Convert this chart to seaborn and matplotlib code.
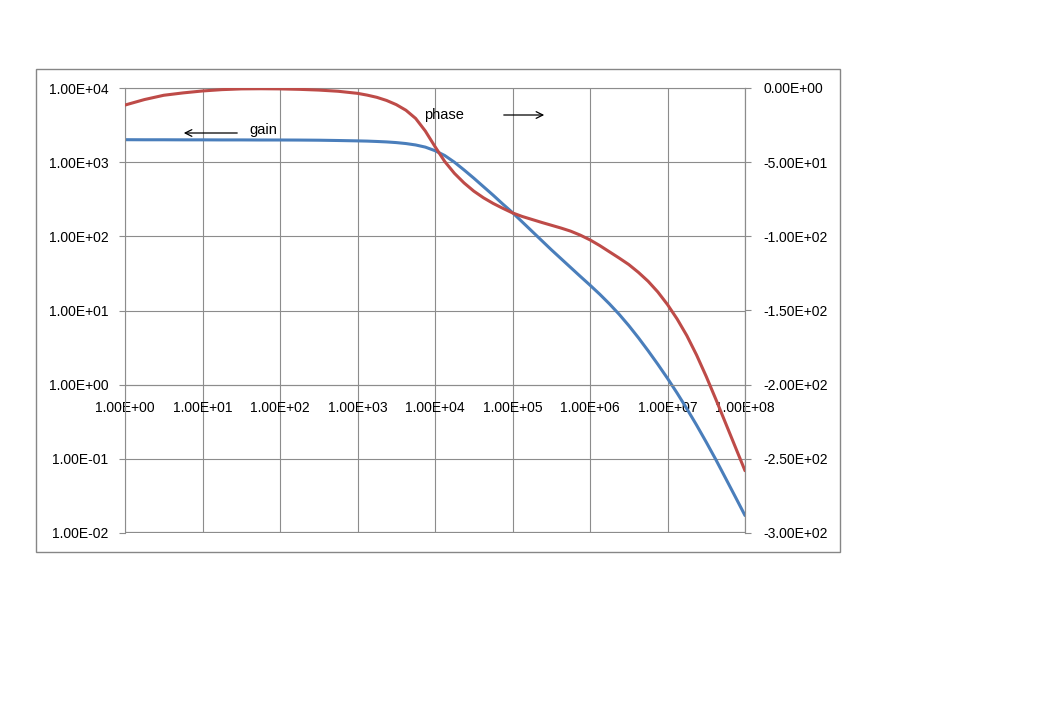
import numpy as np
import pandas as pd
import seaborn as sns
import matplotlib.pyplot as plt
from matplotlib.patches import Rectangle
from matplotlib.ticker import FixedLocator, FuncFormatter, NullLocator

# frequency points (log10 of frequency)
log_freq = [0.00, 0.25, 0.50, 0.75, 1.00, 1.25, 1.50, 1.75, 2.00, 2.25, 2.50, 2.75,
            3.000, 3.125, 3.250, 3.375, 3.500, 3.625, 3.750, 3.875,
            4.000, 4.125, 4.250, 4.375, 4.500, 4.625, 4.750, 4.875,
            5.000, 5.125, 5.250, 5.375, 5.500, 5.625, 5.750, 5.875,
            6.000, 6.125, 6.250, 6.375, 6.500, 6.625, 6.750, 6.875,
            7.000, 7.125, 7.250, 7.375, 7.500, 7.625, 7.750, 7.875, 8.000]

# gain (log10 of value, left axis)
log_gain = [3.303, 3.302, 3.302, 3.301, 3.301, 3.300, 3.300, 3.299, 3.299, 3.298, 3.296, 3.292,
            3.287, 3.284, 3.279, 3.273, 3.264, 3.251, 3.232, 3.203,
            3.155, 3.090, 3.000, 2.895, 2.785, 2.670, 2.555, 2.435,
            2.320, 2.195, 2.070, 1.945, 1.820, 1.700, 1.580, 1.460,
            1.342, 1.220, 1.090, 0.950, 0.797, 0.632, 0.457, 0.275,
            0.085, -0.115, -0.325, -0.545, -0.775, -1.013, -1.262, -1.512, -1.764]

# phase in degrees (right axis)
phase = [-11.5, -7.8, -4.9, -3.3, -2.0, -1.1, -0.6, -0.5, -0.6, -0.9, -1.4, -2.2,
         -3.6, -4.8, -6.3, -8.4, -11.2, -15.0, -20.5, -29.0,
         -39.5, -49.5, -57.5, -64.0, -69.5, -74.0, -77.8, -81.1,
         -84.2, -86.6, -88.6, -90.6, -92.5, -94.4, -96.5, -99.2,
         -102.4, -106.2, -110.4, -114.6, -119.0, -124.3, -130.3, -137.5,
         -146.0, -155.8, -167.0, -180.0, -194.5, -210.0, -226.0, -242.0, -258.0]

x_ticks = [1e0, 1e1, 1e2, 1e3, 1e4, 1e5, 1e6, 1e7, 1e8]
gain_ticks = [1e-2, 1e-1, 1e0, 1e1, 1e2, 1e3, 1e4]
phase_ticks = [-300, -250, -200, -150, -100, -50, 0]

df = pd.DataFrame({
    "freq": [10 ** v for v in log_freq],
    "gain": [10 ** v for v in log_gain],
    "phase": phase,
})

sns.set_theme(style="white")
plt.rcParams['font.family'] = ['Liberation Sans', 'DejaVu Sans']
plt.rcParams['text.color'] = 'black'

grid_col = "#8c8c8c"
blue = "#4a7ebb"
red = "#be4b48"

fig = plt.figure(figsize=(10.4, 7.2), dpi=100)
ax = fig.add_axes([125 / 1040, 187 / 720, 620 / 1040, 445 / 720])

# outer chart frame
fig.patches.append(Rectangle((36 / 1040, 168 / 720), 804 / 1040, 483 / 720,
                             transform=fig.transFigure, fill=False,
                             edgecolor="#868686", linewidth=1.0))

sns.lineplot(data=df, x="freq", y="gain", ax=ax, color=blue, linewidth=2.2)
ax.set_xscale("log")
ax.set_yscale("log")
ax.set_xlim(1e0, 1e8)
ax.set_ylim(1e-2, 1e4)

fmt = FuncFormatter(lambda v, p: "{:.2E}".format(v))
ax.xaxis.set_major_locator(FixedLocator(x_ticks))
ax.yaxis.set_major_locator(FixedLocator(gain_ticks))
ax.xaxis.set_minor_locator(NullLocator())
ax.yaxis.set_minor_locator(NullLocator())
ax.xaxis.set_major_formatter(fmt)
ax.yaxis.set_major_formatter(fmt)
ax.grid(True, color=grid_col, linewidth=0.8)
ax.set_xlabel("")
ax.set_ylabel("")

for s in ["left", "top", "right", "bottom"]:
    ax.spines[s].set_color(grid_col)
    ax.spines[s].set_linewidth(0.8)
ax.spines["bottom"].set_position(("data", 1))
ax.axhline(1e-2, color=grid_col, linewidth=1.6, clip_on=True)

ax.tick_params(axis="x", length=0, pad=12, labelsize=10, colors="black")
ax.tick_params(axis="y", left=True, length=4, width=0.8, color=grid_col,
               pad=8, labelsize=10, labelcolor="black")

ax2 = ax.twinx()
sns.lineplot(data=df, x="freq", y="phase", ax=ax2, color=red, linewidth=2.2)
ax2.set_ylim(-300, 0)
ax2.yaxis.set_major_locator(FixedLocator(phase_ticks))
ax2.yaxis.set_major_formatter(fmt)
ax2.set_ylabel("")
for s in ["left", "top", "right", "bottom"]:
    ax2.spines[s].set_visible(False)
ax2.spines["right"].set_visible(True)
ax2.spines["right"].set_color(grid_col)
ax2.spines["right"].set_linewidth(0.8)
ax2.tick_params(axis="y", right=True, length=4, width=0.8, color=grid_col,
                pad=9, labelsize=10, labelcolor="black")

# annotations
ax.annotate("", xy=(181 / 1040, 1 - 133 / 720), xytext=(240 / 1040, 1 - 133 / 720),
            xycoords="figure fraction", textcoords="figure fraction",
            arrowprops=dict(arrowstyle="->", color="black", lw=0.9))
fig.text(249 / 1040, 1 - 130 / 720, "gain", fontsize=10.5, va="center", ha="left")
fig.text(424 / 1040, 1 - 115 / 720, "phase", fontsize=10.5, va="center", ha="left")
ax.annotate("", xy=(547 / 1040, 1 - 115 / 720), xytext=(501 / 1040, 1 - 115 / 720),
            xycoords="figure fraction", textcoords="figure fraction",
            arrowprops=dict(arrowstyle="->", color="black", lw=0.9))

plt.savefig("out.png", dpi=100, facecolor="white")
